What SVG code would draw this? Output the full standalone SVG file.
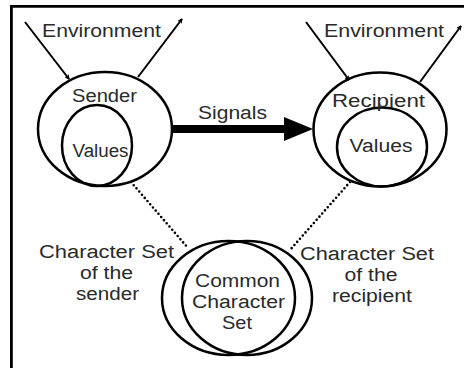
<svg xmlns="http://www.w3.org/2000/svg" width="464" height="368" viewBox="0 0 464 368">
<defs>
<style>
.e{fill:none;stroke:#000;stroke-width:2.5}
.t{font-family:"Liberation Sans",Arial,sans-serif;font-size:18px;fill:#2a2a2a;text-anchor:middle}
.a{fill:none;stroke:#000;stroke-width:2}
.d{fill:none;stroke:#000;stroke-width:2.6;stroke-dasharray:0 4.2;stroke-linecap:round}
</style>
<marker id="ah" viewBox="0 0 10 10" refX="9" refY="5" markerWidth="5" markerHeight="5" orient="auto" markerUnits="userSpaceOnUse">
<path d="M1,1 L9,5 L1,9" fill="none" stroke="#000" stroke-width="2"/>
</marker>
</defs>
<rect width="464" height="368" fill="#fff"/>
<path d="M11.4,368 V6.4 H464" fill="none" stroke="#000" stroke-width="2.8"/>
<g id="sender">
<ellipse class="e" cx="105" cy="129" rx="67" ry="57"/>
<ellipse class="e" cx="97" cy="145.5" rx="35" ry="40.5"/>
<text class="t" x="104.5" y="102" textLength="65" lengthAdjust="spacingAndGlyphs">Sender</text>
<text class="t" x="100.5" y="157" textLength="56" lengthAdjust="spacingAndGlyphs">Values</text>
</g>
<g id="recipient">
<ellipse class="e" cx="380" cy="129.5" rx="66.5" ry="57"/>
<ellipse class="e" cx="382" cy="147" rx="45" ry="39.5"/>
<text class="t" x="378.5" y="107" textLength="93" lengthAdjust="spacingAndGlyphs">Recipient</text>
<text class="t" x="381" y="152" textLength="63" lengthAdjust="spacingAndGlyphs">Values</text>
</g>
<g id="common">
<ellipse class="e" cx="228.5" cy="298" rx="66.5" ry="57"/>
<ellipse class="e" cx="247" cy="298" rx="65" ry="57"/>
<text class="t" x="237.5" y="287" textLength="85" lengthAdjust="spacingAndGlyphs">Common</text>
<text class="t" x="238.5" y="308" textLength="93" lengthAdjust="spacingAndGlyphs">Character</text>
<text class="t" x="237" y="329" textLength="30" lengthAdjust="spacingAndGlyphs">Set</text>
</g>
<g id="labels">
<text class="t" x="101.5" y="37" textLength="119" lengthAdjust="spacingAndGlyphs">Environment</text>
<text class="t" x="384" y="37" textLength="120" lengthAdjust="spacingAndGlyphs">Environment</text>
<text class="t" x="232.5" y="119" textLength="69" lengthAdjust="spacingAndGlyphs">Signals</text>
<text class="t" x="106.5" y="258" textLength="135" lengthAdjust="spacingAndGlyphs">Character Set</text>
<text class="t" x="106.5" y="279" textLength="53" lengthAdjust="spacingAndGlyphs">of the</text>
<text class="t" x="107.5" y="300" textLength="63" lengthAdjust="spacingAndGlyphs">sender</text>
<text class="t" x="367" y="260" textLength="134" lengthAdjust="spacingAndGlyphs">Character Set</text>
<text class="t" x="371" y="281" textLength="53" lengthAdjust="spacingAndGlyphs">of the</text>
<text class="t" x="372" y="302" textLength="80" lengthAdjust="spacingAndGlyphs">recipient</text>
</g>
<g id="connectors">
<line class="a" x1="25" y1="22" x2="69" y2="79" marker-end="url(#ah)"/>
<line class="a" x1="138" y1="77" x2="182" y2="19" marker-end="url(#ah)"/>
<line class="a" x1="306" y1="22" x2="349" y2="80" marker-end="url(#ah)"/>
<line class="a" x1="420" y1="82" x2="461" y2="26" marker-end="url(#ah)"/>
<polygon points="173,125 284,125 284,117 313,129 284,141 284,133 173,133" fill="#000"/>
<line class="d" x1="131" y1="182" x2="188" y2="248"/>
<line class="d" x1="350" y1="182" x2="290" y2="250"/>
</g>
</svg>
